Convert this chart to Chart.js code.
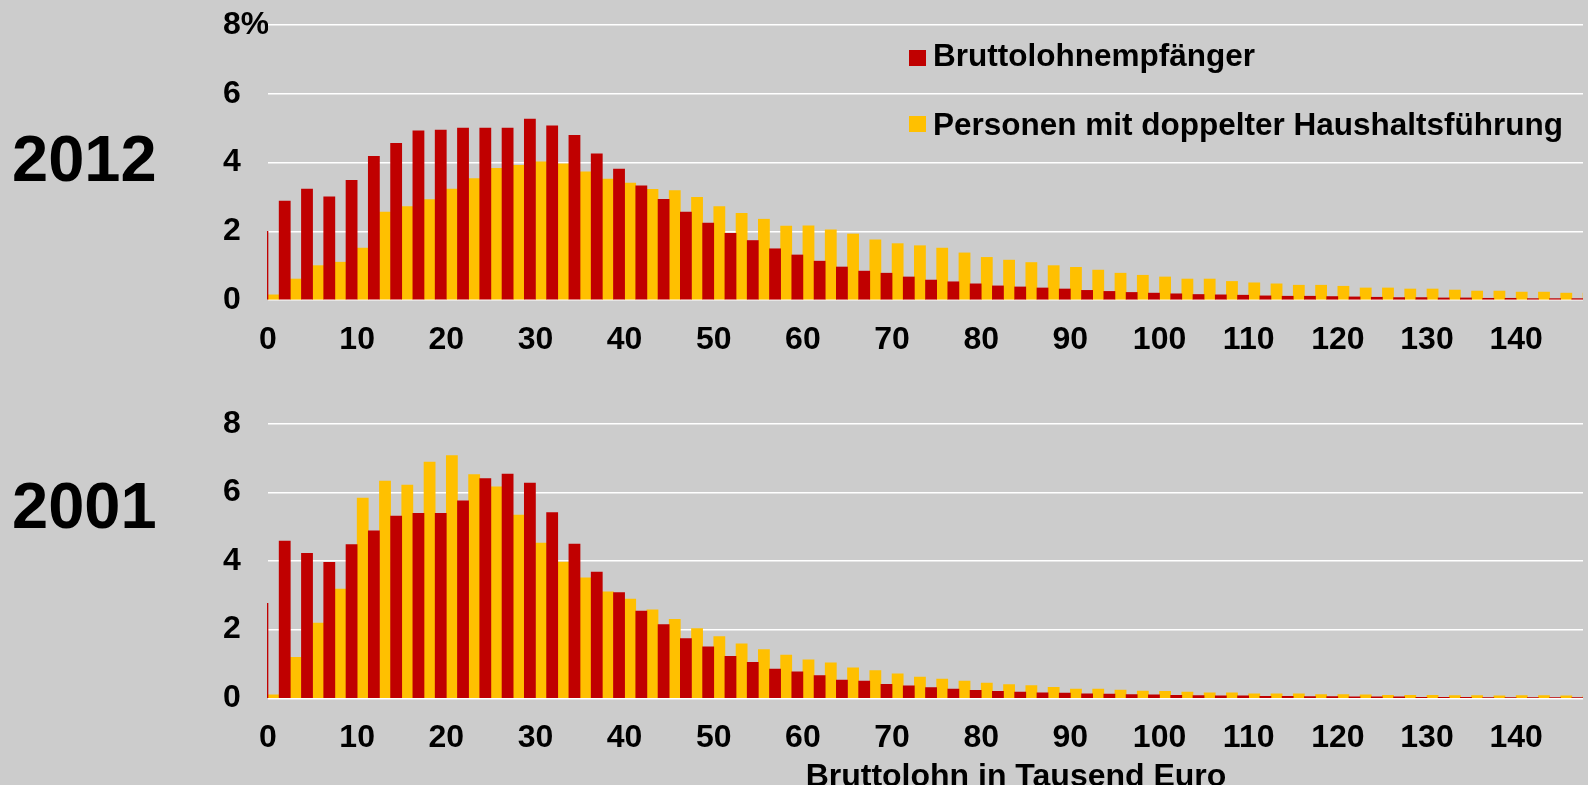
<!DOCTYPE html>
<html>
<head>
<meta charset="utf-8">
<script src="https://cdn.jsdelivr.net/npm/chart.js@4.4.1/dist/chart.umd.min.js"></script>
<style>
  html, body { margin: 0; padding: 0; background: #cccccc; }
  body { width: 1588px; height: 785px; position: relative; overflow: hidden;
         font-family: 'Liberation Sans', Arial, sans-serif; font-weight: bold; color: #000; }
  canvas { position: absolute; left: 0; }
  #c2012 { top: 0; }
  #c2001 { top: 390px; }
  .year { position: absolute; left: 12px; font-size: 65px; line-height: 1; }
  #xtitle { position: absolute; left: 716px; width: 600px; top: 759px; text-align: center;
            font-size: 32px; line-height: 1; white-space: nowrap; }
  .item { position: absolute; left: 933px; font-size: 31.5px; line-height: 1; white-space: nowrap; }
  .box { position: absolute; left: 909px; width: 17px; height: 16px; }
</style>
</head>
<body>
<div class="year" style="top:126px">2012</div>
<div class="year" style="top:473px">2001</div>
<canvas id="c2012" width="1588" height="365"></canvas>
<canvas id="c2001" width="1588" height="395"></canvas>
<div id="legend"></div>
<div id="xtitle">Bruttolohn in Tausend Euro</div>
<script>
// Bruttolohn-Klassen (Tausend Euro), 2,5er Schritte
var bins = [0, 2.5, 5, 7.5, 10, 12.5, 15, 17.5, 20, 22.5, 25, 27.5, 30, 32.5, 35, 37.5, 40, 42.5, 45, 47.5,
            50, 52.5, 55, 57.5, 60, 62.5, 65, 67.5, 70, 72.5, 75, 77.5, 80, 82.5, 85, 87.5, 90, 92.5, 95, 97.5,
            100, 102.5, 105, 107.5, 110, 112.5, 115, 117.5, 120, 122.5, 125, 127.5, 130, 132.5, 135, 137.5, 140, 142.5, 145, 147.5];
var xTickLabels = ['0', '10', '20', '30', '40', '50', '60', '70', '80', '90', '100', '110', '120', '130', '140'];
var seriesNames = ['Bruttolohnempfänger', 'Personen mit doppelter Haushaltsführung'];
var seriesColors = ['#c00000', '#ffc000'];

// Anteile in %
var red2012 = [2.0, 2.88, 3.23, 3.0, 3.48, 4.18, 4.56, 4.92, 4.94, 5.0,
               5.0, 5.0, 5.26, 5.07, 4.79, 4.25, 3.81, 3.32, 2.93, 2.56,
               2.24, 1.94, 1.73, 1.49, 1.31, 1.13, 0.96, 0.84, 0.78, 0.67,
               0.58, 0.53, 0.47, 0.41, 0.38, 0.35, 0.32, 0.28, 0.25, 0.22,
               0.20, 0.18, 0.16, 0.15, 0.14, 0.12, 0.11, 0.11, 0.10, 0.09,
               0.08, 0.07, 0.07, 0.06, 0.06, 0.05, 0.05, 0.04, 0.04, 0.04];
var yellow2012 = [0.15, 0.61, 1.0, 1.1, 1.51, 2.56, 2.72, 2.92, 3.23, 3.53,
                  3.83, 3.92, 4.02, 3.96, 3.73, 3.52, 3.40, 3.22, 3.18, 2.99,
                  2.72, 2.52, 2.35, 2.15, 2.16, 2.04, 1.92, 1.75, 1.64, 1.58,
                  1.51, 1.37, 1.24, 1.16, 1.09, 1.0, 0.95, 0.87, 0.78, 0.72,
                  0.67, 0.61, 0.61, 0.54, 0.50, 0.47, 0.43, 0.43, 0.40, 0.35,
                  0.35, 0.32, 0.32, 0.29, 0.26, 0.26, 0.23, 0.23, 0.20, 0.20];
var red2001 = [2.77, 4.58, 4.22, 3.96, 4.48, 4.88, 5.31, 5.39, 5.39, 5.75,
               6.40, 6.53, 6.27, 5.41, 4.49, 3.68, 3.08, 2.54, 2.15, 1.74,
               1.50, 1.22, 1.05, 0.85, 0.77, 0.66, 0.53, 0.50, 0.41, 0.36,
               0.31, 0.27, 0.23, 0.20, 0.18, 0.16, 0.15, 0.13, 0.12, 0.11,
               0.10, 0.09, 0.08, 0.07, 0.07, 0.06, 0.06, 0.05, 0.05, 0.04,
               0.04, 0.04, 0.03, 0.03, 0.03, 0.02, 0.02, 0.02, 0.02, 0.02];
var yellow2001 = [0.10, 1.19, 2.19, 3.18, 5.83, 6.33, 6.21, 6.88, 7.07, 6.52,
                  6.16, 5.34, 4.52, 3.97, 3.51, 3.10, 2.89, 2.58, 2.30, 2.03,
                  1.80, 1.59, 1.42, 1.26, 1.12, 1.03, 0.89, 0.81, 0.71, 0.62,
                  0.56, 0.50, 0.44, 0.40, 0.37, 0.32, 0.27, 0.27, 0.24, 0.21,
                  0.20, 0.18, 0.16, 0.16, 0.13, 0.13, 0.13, 0.11, 0.11, 0.10,
                  0.09, 0.09, 0.09, 0.08, 0.08, 0.07, 0.08, 0.08, 0.07, 0.07];

var tickFont = { family: "'Liberation Sans', Arial, sans-serif", size: 32, weight: 'bold' };

function makeChart(id, red, yellow, padTop, axisHeight, pctOnTop) {
    var ctx = document.getElementById(id);
    return new Chart(ctx, {
        type: 'bar',
        data: {
            labels: bins,
            datasets: [{
                label: seriesNames[0],
                backgroundColor: seriesColors[0],
                data: red
            }, {
                label: seriesNames[1],
                backgroundColor: seriesColors[1],
                data: yellow
            }]
        },
        options: {
            responsive: false,
            animation: false,
            datasets: {
                bar: { categoryPercentage: 1, barPercentage: 1, clip: { left: 1, top: 0, right: 0, bottom: 0 } }
            },
            layout: { padding: { left: 223, right: 5, top: padTop, bottom: 0 } },
            plugins: {
                legend: { display: false },
                tooltip: { enabled: false }
            },
            scales: {
                x: {
                    offset: false,
                    grid: { display: false, drawTicks: false },
                    border: { display: false },
                    ticks: {
                        autoSkip: false,
                        maxRotation: 0,
                        padding: 21,
                        color: '#000',
                        font: tickFont,
                        callback: function (v, i) { return i % 4 === 0 ? xTickLabels[i / 4] : ''; }
                    },
                    afterFit: function (s) {
                        s.height = axisHeight;
                        s.paddingLeft = 0;
                        s.paddingRight = 0;
                    }
                },
                y: {
                    min: 0,
                    max: 8,
                    grid: { color: '#ffffff', lineWidth: 1.5, drawTicks: false },
                    border: { display: false },
                    ticks: {
                        stepSize: 2,
                        crossAlign: 'far',
                        padding: 0,
                        color: '#000',
                        font: tickFont,
                        callback: function (v) { return (pctOnTop && v === 8) ? '8%' : String(v); }
                    },
                    afterFit: function (s) { s.width = 45; }
                }
            }
        }
    });
}

var chartTop = makeChart('c2012', red2012, yellow2012, 25, 65, true);
var chartBottom = makeChart('c2001', red2001, yellow2001, 33.7, 86.7, false);

// Legende oben rechts im oberen Diagramm
var legend = document.getElementById('legend');
chartTop.data.datasets.forEach(function (ds, i) {
    var box = document.createElement('div');
    box.className = 'box';
    box.style.top = (50 + i * 66) + 'px';
    box.style.background = ds.backgroundColor;
    var txt = document.createElement('div');
    txt.className = 'item';
    txt.style.top = (40 + i * 69) + 'px';
    txt.textContent = ds.label;
    legend.appendChild(box);
    legend.appendChild(txt);
});
</script>
</body>
</html>
